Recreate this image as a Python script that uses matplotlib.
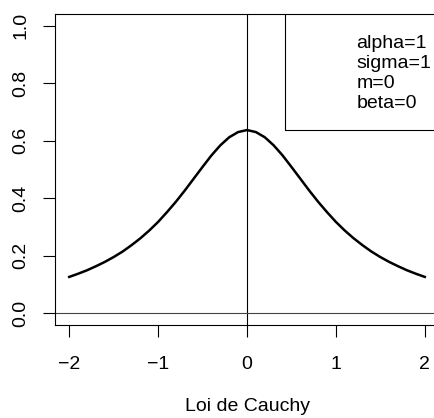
import numpy as np
import matplotlib
matplotlib.use("Agg")
from matplotlib import pyplot as plt
from matplotlib.patches import Rectangle

## Datos (densidad de Cauchy)
x_vals = [-2.0, -1.9, -1.8, -1.7, -1.6, -1.5, -1.4, -1.3, -1.2, -1.1, -1.0,
          -0.9, -0.8, -0.7, -0.6, -0.5, -0.4, -0.3, -0.2, -0.1, 0.0,
          0.1, 0.2, 0.3, 0.4, 0.5, 0.6, 0.7, 0.8, 0.9, 1.0,
          1.1, 1.2, 1.3, 1.4, 1.5, 1.6, 1.7, 1.8, 1.9, 2.0]
y_vals = [0.127, 0.138, 0.150, 0.164, 0.179, 0.196, 0.215, 0.237, 0.261, 0.288, 0.318,
          0.352, 0.388, 0.427, 0.468, 0.509, 0.549, 0.584, 0.612, 0.630, 0.637,
          0.630, 0.612, 0.584, 0.549, 0.509, 0.468, 0.427, 0.388, 0.352, 0.318,
          0.288, 0.261, 0.237, 0.215, 0.196, 0.179, 0.164, 0.150, 0.138, 0.127]
x_ticks = [-2, -1, 0, 1, 2]
y_ticks = [0.0, 0.2, 0.4, 0.6, 0.8, 1.0]
leyenda = ["alpha=1", "sigma=1", "m=0", "beta=0"]
titulo_x = "Loi de Cauchy"

plt.rcParams['font.family'] = ['Liberation Sans', 'DejaVu Sans']
FS = 14

fig = plt.figure(figsize=(4.34, 4.18), dpi=100)
ax = fig.add_axes([55/434, 93/418, 384/434, 311/418])

ax.plot(x_vals, y_vals, color='black', lw=1.8)
ax.axvline(0, color='black', lw=0.8)
ax.axhline(0, color='#444444', lw=0.8)

ax.set_xlim(-2.16, 2.16)
ax.set_ylim(-0.04, 1.04)
ax.set_xticks(x_ticks)
ax.set_xticklabels(['\u22122', '\u22121', '0', '1', '2'])
ax.set_yticks(y_ticks)
ax.set_yticklabels(['%.1f' % v for v in y_ticks], rotation=90, va='center')
ax.tick_params(axis='both', length=8.5, width=0.8, labelsize=FS)
ax.tick_params(axis='x', pad=14)
ax.tick_params(axis='y', pad=10)
for s in ax.spines.values():
    s.set_linewidth(0.8)

ax.set_xlabel(titulo_x, fontsize=FS, labelpad=18)

## Leyenda sin simbolos
ax.add_patch(Rectangle((0.599, 0.627), 0.5, 0.5, transform=ax.transAxes,
                       fill=False, lw=0.8, ec='black', clip_on=True))
for i, t in enumerate(leyenda):
    ax.text(0.785, 0.905 - i * 0.0645, t, transform=ax.transAxes,
            fontsize=FS, va='center', ha='left')

fig.savefig("out.png", dpi=100)
